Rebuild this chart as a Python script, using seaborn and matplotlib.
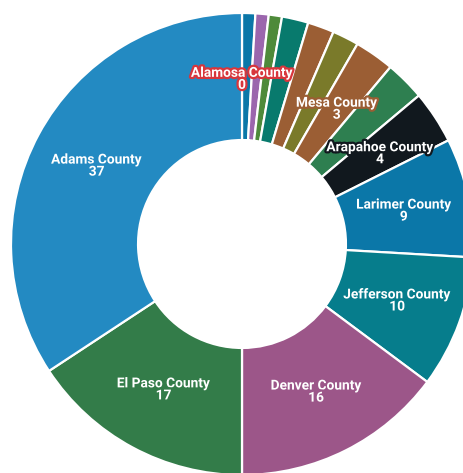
import numpy as np
import seaborn as sns
from matplotlib import pyplot as plt
import matplotlib.patheffects as pe

# slices clockwise from 12 o'clock, unlabeled ones left blank
counties = ['Alamosa County', '', '', '', '', '', '', 'Mesa County', '',
            'Arapahoe County', 'Larimer County', 'Jefferson County',
            'Denver County', 'El Paso County', 'Adams County']
counts = [0, 1, 1, 1, 2, 2, 2, 3, 3, 4, 9, 10, 16, 17, 37]
colors = ['#d8363c', '#0b77a8', '#9b66ad', '#4e8a3a', '#087a6d', '#9b5e34',
          '#7a7a2a', '#9b5e34', '#2e7f50', '#11181e', '#0b77a8', '#067d8c',
          '#9c5689', '#337c49', '#238ac2']

sns.set_theme(style='white')
plt.rcParams['font.family'] = ['Roboto', 'DejaVu Sans']

W, H = 463, 473
cx, cy, R = 242, 244, 231  # pixel centre / outer radius

fig = plt.figure(figsize=(W / 100, H / 100), dpi=100)
ax = fig.add_axes([0, 0, 1, 1])

palette = sns.color_palette(colors)
wedges, _ = ax.pie(counts, colors=palette, startangle=90, counterclock=False,
                   radius=1, wedgeprops=dict(width=0.55, edgecolor='white',
                                             linewidth=1.6, joinstyle='round'))

ax.set_xlim(-cx / R, (W - cx) / R)
ax.set_ylim(-(H - cy) / R, cy / R)
ax.set_aspect('auto')
ax.axis('off')

label_r = 0.715
for w, name, val, col in zip(wedges, counties, counts, colors):
    if not name:
        continue
    ang = np.deg2rad((w.theta1 + w.theta2) / 2)
    x, y = label_r * np.cos(ang), label_r * np.sin(ang)
    ax.text(x, y, f'{name}\n{val}', ha='center', va='center', color='white',
            fontsize=9.9, fontweight='bold', linespacing=0.82,
            path_effects=[pe.withStroke(linewidth=3.2, foreground=col)])

fig.savefig('out.png', dpi=100, facecolor='white')
